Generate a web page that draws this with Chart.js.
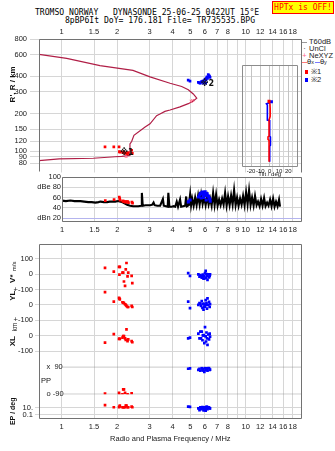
<!DOCTYPE html>
<html>
<head>
<meta charset="utf-8">
<title>Dynasonde ionogram</title>
<script src="https://cdn.jsdelivr.net/npm/chart.js@4.4.1/dist/chart.umd.min.js"></script>
<style>
  body { margin: 0; background: #fff; }
  #page { position: relative; width: 335px; height: 451px; overflow: hidden; font-family: 'Liberation Sans', Arial, sans-serif; }
  canvas { position: absolute; }
  .mono { position: absolute; font-family: 'DejaVu Sans Mono', monospace; font-size: 8.1px; line-height: 9px; white-space: pre; color: #000; }
  #hptx { position: absolute; left: 272px; top: 1px; width: 60px; height: 11px; background: #ffff00; border: 1px solid #ff0000;
          color: #ff0000; font-family: 'DejaVu Sans Mono', monospace; font-size: 8px; line-height: 11px; text-align: center; }
  .leg { position: absolute; left: 302px; font-size: 7.5px; line-height: 8px; height: 8px; color: #222; white-space: nowrap; }
  .sw { display: inline-block; vertical-align: middle; }
  .sub { font-size: 5.5px; }
</style>
</head>
<body>
<div id="page">
  <div class="mono" style="left:35px;top:8px">TROMSO NORWAY   DYNASONDE 25-06-25 0422UT 15°E</div>
  <div class="mono" style="left:65px;top:15.5px">8pBP6It DoY= 176.181 File= TR735535.BPG</div>
  <div id="hptx">HPTx is OFF!</div>

  <div class="leg" style="top:38px"><span class="sw" style="width:5px;height:1px;background:#999;margin-right:2px"></span>T60dB</div>
  <div class="leg" style="top:45px"><span class="sw" style="width:5px;text-align:center;margin-right:2px">·</span>UnCl</div>
  <div class="leg" style="top:52px"><span class="sw" style="width:5px;text-align:center;margin-right:2px;color:#ff6a8a">+</span>NeXYZ</div>
  <div class="leg" style="top:58px"><span class="sw" style="width:5px;height:1px;background:#ff7a7a"></span>θ<span class="sub">x</span><span class="sw" style="width:5px;height:1px;background:#7a7aff;margin-left:1px"></span>θ<span class="sub">y</span></div>
  <div class="leg" style="top:67.5px;left:305px"><span class="sw" style="width:3px;height:4px;background:#ff0000;margin-right:3px"></span>※1</div>
  <div class="leg" style="top:76px;left:305px"><span class="sw" style="width:3px;height:4px;background:#0000ff;margin-right:3px"></span>※2</div>

  <canvas id="heightChart" width="335" height="180" style="left:0;top:0"></canvas>
  <canvas id="tiltChart" width="70" height="120" style="left:236px;top:60px"></canvas>
  <canvas id="ampChart" width="335" height="66" style="left:0;top:170px"></canvas>
  <canvas id="paramChart" width="335" height="219" style="left:0;top:232px"></canvas>
</div>

<script>
// ---- axis ticks ----
const freqGrid = [1, 1.5, 2, 3, 4, 5, 6, 7, 8, 9, 10, 12, 14, 16, 18];
const freqLabelsOuter = [1, 1.5, 2, 3, 4, 5, 6, 7, 8, 10, 12, 14, 16, 18];
const heightTicks = [80, 90, 100, 120, 150, 200, 300, 400, 600, 800];
const ampTicks = [20, 40, 60, 80, 100];
const tiltTicks = [-20, -10, 0, 10, 20];

// ---- plasma frequency profile (MHz vs real height km) ----
const profileFreq = [0.753, 0.97, 1.485, 1.949, 2.12, 2.35, 2.35, 2.40, 2.47, 2.84, 3.02, 3.28, 3.42, 3.64, 3.88,
  4.395, 4.876, 5.19, 5.42, 5.19, 4.876, 4.49, 3.88, 3.02, 2.44, 1.615, 1.065, 0.753];
const profileHeight = [83.8, 86.4, 87.5, 90.0, 90.6, 92.3, 114.4, 119.4, 134, 156.5, 166, 193, 198.7, 208.7, 214.4,
  227.1, 241, 253, 267, 288.5, 311.7, 331.4, 351.8, 396.5, 446.5, 488.5, 558, 602.6];

// NeXYZ fit markers
const nexyzFreq = [5.05, 5.15];
const nexyzHeight = [252, 256];
const nexyzLowFreq = [2.24];
const nexyzLowHeight = [90];

// ---- echoes, mode 1 (red) ----
const oFreq = [1.72, 1.92, 2.05, 2.06, 2.07, 2.14, 2.16, 2.18, 2.21, 2.23, 2.25, 2.28, 2.30, 2.40, 2.42];
const oHeight = [108, 108, 108, 99, 98, 98, 97, 97, 96.7, 96, 96, 95.1, 97, 101.6, 95.7];
const oAmp = [54, 56, 61, 58, 55, 53, 53, 52, 51, 52, 51.5, 52, 50, 51, 49];
const oVel = [41, 16, 47, -4, 47, 10, 10, -48, -77, 31, 72, -15, 10, -11, -59];
const oYL = [83, 21, 46, 40, 36, 17, 15, 11, 4, 0, -6, -14, -14, -6, -14];
const oXL = [-44, 10, -21, -18, -21, -12, -2, -2, -17, -27, 41, -34, -23, -34, -42];
const oPP = [-86, -121, -80, -95, -111, -90, -58, -58, -80, -101, -111, -90, -100, -84, -111];
const oEP = [56, 14, 14, 20, 38, 14, 14, 14, 14, 38, 38, 14, 14, 21, 14];

// ---- echoes, mode 2 (blue) ----
const xFreq = [4.87, 4.98, 5.53, 5.61, 5.67, 5.72, 5.77, 5.82, 5.85, 5.90, 5.93, 5.96, 6.01, 6.06, 6.09, 6.12, 6.16, 6.20, 6.26, 6.32, 6.37, 6.40];
const xHeight = [373, 366, 358, 355, 352, 360, 363, 362, 366, 353, 358, 370, 380, 352, 374, 388, 396, 385, 414, 405, 398, 392];
const xAmp = [51.5, 55, 61, 65, 68, 59, 69, 70.5, 66, 60, 69, 64, 71, 66, 55, 67, 67, 63, 63, 59, 57, 53];
const xVel = [6, -11, -2, -17, -6, -12, -23, -15, -4, -30, -12, -29, 6, 21, -23, 0, -11, -37, -2, -21, -11, -2];
const xYL = [21, -21, 0, 12, 8, -6, 25, -19, 6, -31, 6, -12, -12, 31, 0, 12, -25, 42, 0, 19, -14, 5];
const xXL = [-17, -12, 14, -17, 27, -17, 27, -29, 2, 4, 2, -48, 56, -4, -37, 21, -17, -59, 8, -23, 14, -5];
const xPP = [77, 80, 70, 76, 64, 109, 83, 70, 76, 64, 64, 57, 83, 80, 70, 76, 76, 64, 83, 83, 70, 72];
const xEP = [21, 18, 6.7, 2.1, 12, 3.7, 6.7, 16, 12, 2.1, 2.1, 5, 12, 1.6, 5, 18, 18, 3.7, 12, 12, 6.7, 6.7];

// ---- receiver noise level (dB) over the sweep ----
const noiseFreq = [1.00, 1.05, 1.11, 1.17, 1.26, 1.32, 1.39, 1.45, 1.52, 1.58, 1.62, 1.69, 1.76, 1.82, 1.88, 1.95, 2.02, 2.08,
  2.15, 2.20, 2.26, 2.35, 2.44, 2.52, 2.60, 2.70, 2.72, 2.75, 2.85, 2.95, 3.02, 3.10, 3.15, 3.19, 3.30, 3.42, 3.54, 3.58,
  3.68, 3.76, 3.79, 3.84, 3.95, 4.05, 4.13, 4.21, 4.28, 4.39, 4.45, 4.56, 4.68, 4.74, 4.79, 4.90, 4.98, 5.04,
  5.108, 5.204, 5.303, 5.402, 5.505, 5.609, 5.715, 5.823, 5.934, 6.046, 6.161, 6.278, 6.397, 6.518, 6.641, 6.767, 6.896,
  7.026, 7.159, 7.295, 7.434, 7.574, 7.718, 7.865, 8.013, 8.166, 8.320, 8.478, 8.639, 8.803, 8.968, 9.139, 9.311, 9.489,
  9.667, 9.851, 10.04, 10.23, 10.42, 10.62, 10.82, 11.03, 11.23, 11.45, 11.66, 11.89, 12.11, 12.34, 12.58, 12.81, 13.06,
  13.30, 13.56, 13.81, 14.08, 14.34, 14.61, 14.89, 15.17, 15.36];
const noiseDb = [54, 53, 54, 53, 53, 52, 51, 51, 50, 51, 52, 51, 51, 52, 52, 52, 53, 52,
  50, 48, 46, 44, 43, 43, 43, 44, 69, 44, 45, 45, 45, 46, 50, 45, 44, 44, 57, 44,
  43, 42, 69, 42, 42, 43, 42, 52, 42, 56, 42, 43, 44, 62, 43, 45, 66, 45,
  58, 44, 60, 45, 64, 46, 66, 47, 60, 45, 62, 46, 58, 44, 69, 45, 66,
  44, 56, 45, 58, 46, 69, 44, 62, 45, 64, 46, 74, 45, 60, 44, 58, 46,
  63, 45, 70, 47, 74, 45, 60, 44, 63, 45, 52, 43, 57, 44, 59, 43, 50,
  44, 56, 43, 58, 42, 52, 43, 56, 42];

// ---- wave tilt vs real height ----
const tiltRedH = [262, 258, 250, 230, 200, 187, 140, 138, 132, 130, 88.5];
const tiltRed = [-0.7, -1, 0.3, 0.5, 0.5, -0.7, -0.7, -1.8, -1.8, -0.7, -0.7];
const tiltBlueH = [260, 250, 245, 187, 185, 140, 138, 119, 117, 88.5];
const tiltBlue = [1.8, -3.5, -2.5, -2.5, 0, 0, 0.8, 0.8, 0, 0];

const pts = (xs, ys) => xs.map((x, i) => ({ x: x, y: ys[i] }));
const fixedTicks = list => scale => { scale.ticks = list.map(v => ({ value: v })); };

const GRID = '#d6d6d6';
const FRAME = '#727272';
const RED = '#ff0000';
const BLUE = '#0000ff';
const PROFILE = '#b01e46';

Chart.defaults.font.family = "'Liberation Sans', Arial, sans-serif";
Chart.defaults.font.size = 7.5;
Chart.defaults.color = '#1a1a1a';
Chart.defaults.animation = false;
Chart.defaults.responsive = false;
Chart.defaults.events = [];
Chart.defaults.plugins.legend.display = false;
Chart.defaults.plugins.tooltip.enabled = false;

// box around the plotting area
const framePlugin = {
  id: 'frame',
  afterDatasetsDraw(chart, args, opts) {
    const a = chart.chartArea, ctx = chart.ctx;
    const L = Math.round(a.left) + 0.5, R = Math.round(a.right) - 0.5;
    const T = Math.round(a.top) + 0.5, B = Math.round(a.bottom) - 0.5;
    const sides = opts.sides || ['left', 'top', 'right', 'bottom'];
    const leftEnd = opts.leftEnd != null ? opts.leftEnd : B;
    ctx.save();
    ctx.strokeStyle = opts.color || FRAME;
    ctx.lineWidth = 1;
    ctx.beginPath();
    if (sides.includes('top')) { ctx.moveTo(L, T); ctx.lineTo(R, T); }
    if (sides.includes('bottom')) { ctx.moveTo(L, B); ctx.lineTo(R, B); }
    if (sides.includes('left')) { ctx.moveTo(L, T); ctx.lineTo(L, leftEnd); }
    if (sides.includes('right')) { ctx.moveTo(R, T); ctx.lineTo(R, B); }
    ctx.stroke();
    ctx.restore();
  }
};

// free text placed on scale values (axis names, echo tags)
const textPlugin = {
  id: 'texts',
  afterDraw(chart, args, opts) {
    const ctx = chart.ctx;
    (opts.items || []).forEach(it => {
      const x = it.xScale ? chart.scales[it.xScale].getPixelForValue(it.x) : it.x;
      const y = it.yScale ? chart.scales[it.yScale].getPixelForValue(it.y) : it.y;
      ctx.save();
      ctx.translate(x, y);
      if (it.rotate) ctx.rotate(it.rotate);
      ctx.font = it.font;
      ctx.fillStyle = it.color || '#111';
      ctx.textAlign = it.align || 'center';
      ctx.textBaseline = 'middle';
      ctx.fillText(it.text, 0, 0);
      ctx.restore();
    });
  }
};

const freqAxis = (min, position, labels, height, extra) => Object.assign({
  type: 'logarithmic', position: position, min: min, max: 20.15, bounds: 'data',
  afterBuildTicks: fixedTicks(freqGrid),
  afterFit: s => { s.height = height; },
  ticks: { autoSkip: false, maxRotation: 0, padding: 3, callback: v => labels.includes(v) ? String(v) : '' },
  grid: { color: GRID, drawTicks: false },
  border: { display: false }
}, extra || {});

// ---------- virtual / real height panel ----------
new Chart(document.getElementById('heightChart'), {
  type: 'scatter',
  data: {
    datasets: [
      { data: pts(oFreq, oHeight), backgroundColor: RED, pointStyle: 'rect', pointRadius: 1.9, borderWidth: 0 },
      { data: pts(xFreq, xHeight), backgroundColor: BLUE, pointStyle: 'rect', pointRadius: 1.9, borderWidth: 0 },
      { data: pts(nexyzFreq, nexyzHeight), borderColor: '#ff6a8a', pointStyle: 'crossRot', pointRadius: 2, borderWidth: 1 },
      { data: pts(nexyzLowFreq, nexyzLowHeight), backgroundColor: '#ff7a9a', pointStyle: 'triangle', pointRadius: 2, borderWidth: 0 },
      { data: pts(profileFreq, profileHeight), showLine: true, borderColor: PROFILE, borderWidth: 1.2, pointRadius: 0 }
    ]
  },
  options: {
    layout: { padding: { left: 0, right: 33.3, top: 0, bottom: 3 } },
    plugins: {
      frame: { sides: ['left', 'top', 'right'], leftEnd: 171.5 },
      texts: { items: [
        { text: "R', R / km", font: 'bold 8px "Liberation Sans", Arial', x: 13, y: 345, yScale: 'y', rotate: -Math.PI / 2 },
        { text: '※1', font: 'bold 8px "DejaVu Sans", sans-serif', x: 2.26, xScale: 'x', y: 96, yScale: 'y' },
        { text: '※2', font: 'bold 8px "DejaVu Sans", sans-serif', x: 6.2, xScale: 'x', y: 348, yScale: 'y' }
      ] }
    },
    scales: {
      x: freqAxis(0.753, 'top', freqLabelsOuter, 39),
      y: {
        type: 'logarithmic', min: 67.2, max: 800, bounds: 'data',
        afterBuildTicks: fixedTicks(heightTicks),
        afterFit: s => { s.width = 39; },
        ticks: { autoSkip: false, padding: 3, callback: v => String(v) },
        grid: { color: GRID, tickLength: 9 },
        border: { display: false }
      }
    }
  },
  plugins: [framePlugin, textPlugin]
});

// ---------- wave tilt inset ----------
new Chart(document.getElementById('tiltChart'), {
  type: 'scatter',
  data: {
    datasets: [
      { data: [{ x: tiltRed[0], y: tiltRedH[0] }], backgroundColor: RED, pointStyle: 'rect', pointRadius: 2.2, borderWidth: 0 },
      { data: [{ x: tiltBlue[0], y: tiltBlueH[0] }], backgroundColor: BLUE, pointStyle: 'rect', pointRadius: 2.2, borderWidth: 0 },
      { data: pts(tiltRed, tiltRedH), showLine: true, borderColor: RED, borderWidth: 1.6, pointRadius: 0 },
      { data: pts(tiltBlue, tiltBlueH), showLine: true, borderColor: BLUE, borderWidth: 1.6, pointRadius: 0 }
    ]
  },
  options: {
    layout: { padding: { left: 5.7, right: 8.3, top: 5, bottom: 0.7 } },
    plugins: { frame: { color: '#8c8c8c' } },
    scales: {
      x: {
        type: 'linear', min: -30, max: 30,
        afterBuildTicks: fixedTicks(tiltTicks),
        afterFit: s => { s.height = 12; },
        ticks: { autoSkip: false, maxRotation: 0, padding: 0, font: { size: 6 } },
        grid: { color: '#c4c4c4', drawTicks: false },
        border: { display: false },
        title: { display: true, text: 'Tilt / deg', font: { size: 6 }, padding: { top: 0, bottom: 1 } }
      },
      y: { type: 'logarithmic', min: 80, max: 503, bounds: 'data', display: false }
    }
  },
  plugins: [framePlugin]
});

// ---------- echo amplitude / noise panel ----------
new Chart(document.getElementById('ampChart'), {
  type: 'scatter',
  data: {
    datasets: [
      { data: pts(oFreq, oAmp), backgroundColor: RED, pointStyle: 'rect', pointRadius: 1.9, borderWidth: 0 },
      { data: pts(xFreq, xAmp), backgroundColor: BLUE, pointStyle: 'rect', pointRadius: 2.2, borderWidth: 0 },
      { data: pts(noiseFreq, noiseDb), showLine: true, borderColor: '#000', borderWidth: 2.1, pointRadius: 0 }
    ]
  },
  options: {
    layout: { padding: { left: 0, right: 33.3, top: 7, bottom: 0 } },
    scales: {
      x: freqAxis(1, 'bottom', freqGrid, 14),
      y: {
        type: 'linear', min: 12.2, max: 100, bounds: 'data',
        afterBuildTicks: fixedTicks(ampTicks),
        afterFit: s => { s.width = 62; },
        ticks: { autoSkip: false, padding: 1, callback: v => v === 80 ? 'dBe 80' : v === 20 ? 'dBn 20' : String(v) },
        grid: { drawTicks: false, color: c => c.tick && c.tick.value === 20 ? '#b4b4ee' : GRID },
        border: { display: false }
      }
    }
  },
  plugins: [framePlugin]
});

// ---------- Doppler velocity, location, polarization panel ----------
const sideAxis = (weight, min, max, ticks, labelFn, extra) => Object.assign({
  type: 'linear', position: 'left', stack: 'params', stackWeight: weight, offset: false,
  min: min, max: max, bounds: 'data',
  afterBuildTicks: fixedTicks(ticks),
  afterFit: s => { s.width = 39; },
  ticks: { autoSkip: false, padding: 2, callback: labelFn },
  grid: { color: GRID, tickLength: 4 },
  border: { display: false }
}, extra || {});

const echoSet = (xs, ys, axis, color) => ({
  data: pts(xs, ys), yAxisID: axis, backgroundColor: color, pointStyle: 'rect', pointRadius: 1.9, borderWidth: 0
});

new Chart(document.getElementById('paramChart'), {
  type: 'scatter',
  data: {
    datasets: [
      echoSet(oFreq, oVel, 'yV', RED), echoSet(xFreq, xVel, 'yV', BLUE),
      echoSet(oFreq, oYL, 'yYL', RED), echoSet(xFreq, xYL, 'yYL', BLUE),
      echoSet(oFreq, oXL, 'yXL', RED), echoSet(xFreq, xXL, 'yXL', BLUE),
      echoSet(oFreq, oPP, 'yPP', RED), echoSet(xFreq, xPP, 'yPP', BLUE),
      echoSet(oFreq, oEP, 'yEP', RED), echoSet(xFreq, xEP, 'yEP', BLUE),
      { data: [{ x: 1, y: 90 }, { x: 20.15, y: 90 }], yAxisID: 'yPP', showLine: true, borderColor: '#8a8a8a', borderWidth: 1, pointRadius: 0 },
      { data: [{ x: 1, y: -90 }, { x: 20.15, y: -90 }], yAxisID: 'yPP', showLine: true, borderColor: '#8a8a8a', borderWidth: 1, pointRadius: 0 }
    ]
  },
  options: {
    layout: { padding: { left: 0, right: 33.3, top: 5, bottom: 0 } },
    plugins: {
      texts: { items: [
        { text: 'V*', font: 'bold 8px "Liberation Sans", Arial', x: 13, y: -30, yScale: 'yV', rotate: -Math.PI / 2 },
        { text: 'm/s', font: '6px "Liberation Sans", Arial', x: 14, y: 50, yScale: 'yV', rotate: -Math.PI / 2 },
        { text: 'YL', font: 'bold 8px "Liberation Sans", Arial', x: 13, y: 60, yScale: 'yYL', rotate: -Math.PI / 2 },
        { text: 'km', font: '6.5px "Liberation Sans", Arial', x: 15, y: 55, yScale: 'yXL', rotate: -Math.PI / 2 },
        { text: 'XL', font: 'bold 8px "Liberation Sans", Arial', x: 13, y: -35, yScale: 'yXL', rotate: -Math.PI / 2 },
        { text: 'PP', font: '7.5px "Liberation Sans", Arial', x: 46, y: 0, yScale: 'yPP' },
        { text: 'EP / deg', font: 'bold 7px "Liberation Sans", Arial', x: 13, y: 1, yScale: 'yEP', rotate: -Math.PI / 2 }
      ] }
    },
    scales: {
      x: freqAxis(0.753, 'bottom', freqLabelsOuter, 32, {
        title: { display: true, text: 'Radio and Plasma Frequency / MHz', font: { size: 7.5 }, padding: { top: 0, bottom: 7.5 } }
      }),
      yEP: sideAxis(25.7, 0.0069, 60000, [10, 0.1], v => v === 10 ? '10.' : '0.1', { type: 'logarithmic' }),
      yPP: sideAxis(28.6, -90, 90, [90, -90], v => v === 90 ? 'x  90' : 'o -90', {
        ticks: { autoSkip: false, mirror: true, padding: 7.5, callback: v => v === 90 ? 'x  90' : 'o -90' },
        grid: { display: false }
      }),
      yXL: sideAxis(48.4, -200, 100, [100, 0, -100], v => v === 100 ? '+-100' : String(v)),
      yYL: sideAxis(32, -100, 100, [100, 0], v => v === 100 ? '+-100' : String(v)),
      yV: sideAxis(47.3, -100, 195.6, [100, 0], v => String(v))
    }
  },
  plugins: [framePlugin, textPlugin]
});
</script>
</body>
</html>
